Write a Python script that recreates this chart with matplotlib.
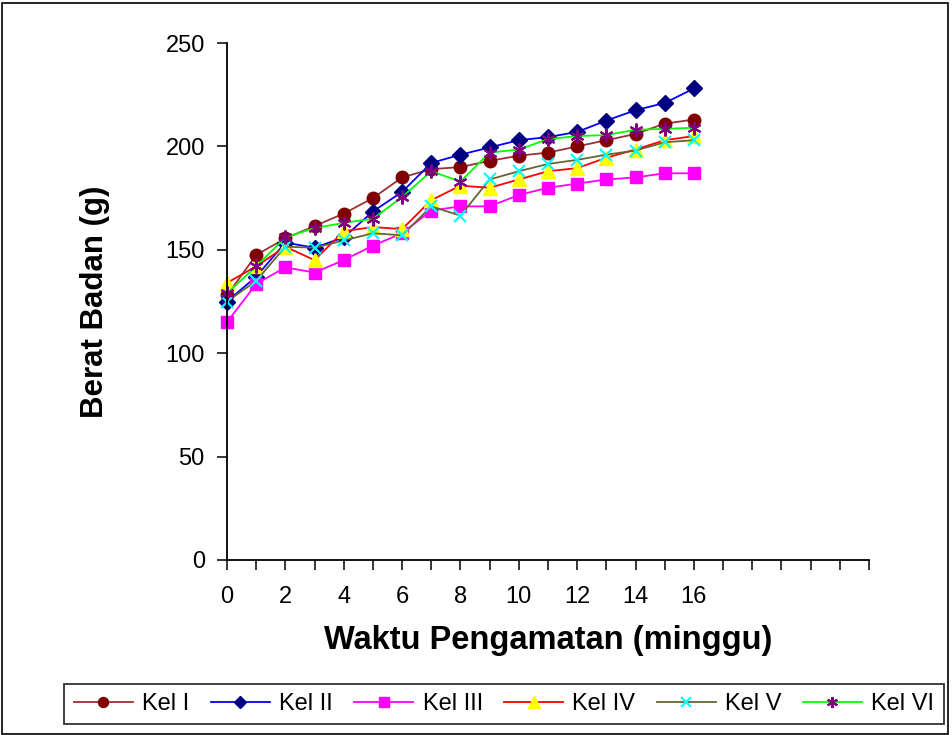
import matplotlib
matplotlib.use("Agg")
import matplotlib.pyplot as plt
from matplotlib.patches import Rectangle

plt.rcParams['font.family'] = ['Liberation Sans', 'DejaVu Sans']

weeks = list(range(17))
kel_1 = [128, 147.5, 155.5, 161.5, 167.5, 175, 185, 189, 190, 193, 195.5, 197, 200, 203, 206, 211, 213]
kel_2 = [125, 137, 153.5, 151, 156, 168.5, 178, 192, 196, 199.5, 203, 204.5, 207, 212.5, 217.5, 221, 228]
kel_3 = [115, 133.5, 141.5, 139, 145, 152, 158, 169, 171, 171, 176.5, 180, 182, 184, 185, 187, 187]
kel_4 = [134, 142, 151.5, 145, 159, 161, 160, 174, 181, 180, 184, 188, 189.5, 194.5, 198.5, 203, 205]
kel_5 = [125, 135, 151.5, 151, 154.5, 158, 157, 171, 166.5, 184, 188, 191.5, 193.5, 196, 198, 202, 203]
kel_6 = [129, 142, 156, 160.5, 163, 165, 175.5, 188, 183, 197, 198.5, 203.5, 205, 205.5, 208, 208.5, 209]

series_names = ["Kel I", "Kel II", "Kel III", "Kel IV", "Kel V", "Kel VI"]
x_tick_labels = ["0", "2", "4", "6", "8", "10", "12", "14", "16"]

styles = [
    dict(color="#993333", marker="o", mfc="#800000", mec="#800000", ms=9),
    dict(color="#0000FF", marker="D", mfc="#000080", mec="#000080", ms=8),
    dict(color="#FF00FF", marker="s", mfc="#FF00FF", mec="#FF00FF", ms=9),
    dict(color="#FF0000", marker="^", mfc="#FFFF00", mec="#FFFF00", ms=10),
    dict(color="#666633", marker="x", mfc="#00FFFF", mec="#00FFFF", ms=9, mew=1.5),
    dict(color="#00FF00", marker=(6, 2, 0), mfc="#800080", mec="#800080", ms=10, mew=1.5),
]

fig = plt.figure(figsize=(9.52, 7.35), dpi=100)
ax = fig.add_axes([227/952, 1-560/735, (869-227)/952, (560-43)/735])

for name, data, st in zip(series_names, [kel_1, kel_2, kel_3, kel_4, kel_5, kel_6], styles):
    ax.plot(weeks, data, lw=1.3, label=name, clip_on=False, **st)

ax.set_xlim(0, 22)
ax.set_ylim(0, 250)
ax.set_xticks(range(23))
ax.set_xticklabels(x_tick_labels[:1] + sum([["", l] for l in x_tick_labels[1:]], []) + [""] * 6)
ax.set_yticks(range(0, 251, 50))
ax.spines['top'].set_visible(False)
ax.spines['right'].set_visible(False)
for s in ['left', 'bottom']:
    ax.spines[s].set_linewidth(1.3)
ax.tick_params(axis='both', direction='out', length=7, width=1.1, labelsize=17)
ax.tick_params(axis='y', pad=9)
ax.tick_params(axis='x', pad=12)

ax.set_xlabel("Waktu Pengamatan (minggu)", fontsize=23.5, fontweight='bold', labelpad=12)
ax.set_ylabel("Berat Badan (g)", fontsize=22.5, fontweight='bold', labelpad=40)

leg = fig.legend(loc='center', bbox_to_anchor=(504/952, 1-704/735), ncol=6,
                 fontsize=17, frameon=True, fancybox=False, edgecolor='black',
                 handlelength=2.5, columnspacing=0.9, handletextpad=0.4,
                 borderpad=0.4, markerscale=0.8)
leg.get_frame().set_linewidth(1.3)

fig.patches.append(Rectangle((0.002, 0.002), 0.994, 0.994, transform=fig.transFigure,
                             fill=False, edgecolor='black', lw=1.2))

fig.savefig("out.png", dpi=100)
